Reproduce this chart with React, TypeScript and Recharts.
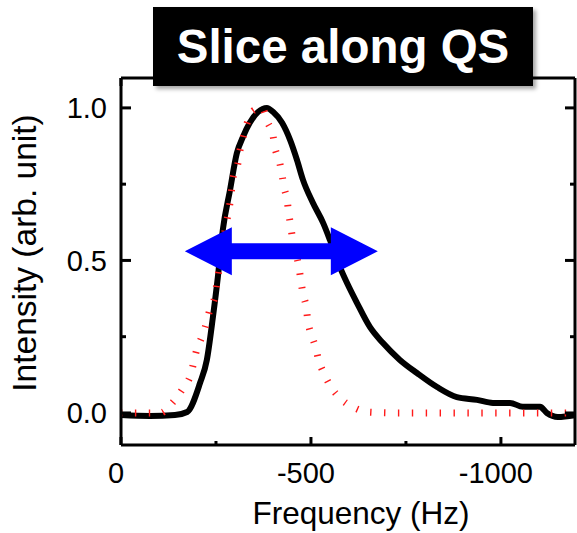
import React from 'react';
import { LineChart, Line, XAxis, YAxis, ReferenceLine } from 'recharts';

// Measured slice (black), frequency in Hz and normalised intensity
const measuredFreq = [0, -76, -142, -174, -208, -226, -242, -255, -268, -287, -305, -321, -339, -361, -384, -400, -424, -445, -463, -479, -505, -532, -550, -576, -595, -621, -655, -689, -734, -779, -832, -884, -937, -979, -1024, -1058, -1103, -1121, -1150, -1195];
const measuredInt = [-0.007, -0.01, -0.007, 0.003, 0.098, 0.174, 0.315, 0.446, 0.6, 0.731, 0.852, 0.905, 0.951, 0.987, 1.0, 0.987, 0.951, 0.895, 0.83, 0.764, 0.689, 0.623, 0.567, 0.479, 0.426, 0.361, 0.282, 0.23, 0.174, 0.131, 0.085, 0.052, 0.043, 0.033, 0.033, 0.02, 0.02, 0.0, -0.013, -0.007];

// Simulated slice (red dotted)
const simFreq = [0, -103, -137, -163, -182, -200, -213, -226, -234, -247, -253, -274, -287, -295, -308, -313, -321, -332, -347, -371, -387, -400, -405, -416, -424, -429, -437, -442, -447, -453, -468, -474, -479, -487, -492, -500, -511, -521, -534, -553, -579, -616, -650, -734, -1195];
const simInt = [0, 0, 0.036, 0.08, 0.12, 0.21, 0.25, 0.3, 0.34, 0.38, 0.43, 0.6, 0.69, 0.77, 0.82, 0.86, 0.9, 0.95, 0.99, 1.0, 0.95, 0.91, 0.87, 0.83, 0.78, 0.74, 0.7, 0.65, 0.61, 0.56, 0.48, 0.43, 0.39, 0.35, 0.3, 0.26, 0.22, 0.17, 0.13, 0.085, 0.046, 0.016, 0.003, 0, 0];

// FWHM arrow endpoints
const arrowFreq = [-168, -676];
const arrowLevel = 0.53;

const xTicks = [0, -250, -500, -750, -1000];
const xMajor = [0, -500, -1000];
const yTicks = [0, 0.25, 0.5, 0.75, 1.0];
const yMajor = [0, 0.5, 1.0];

const title = 'Slice along QS';
const xTitle = 'Frequency (Hz)';
const yTitle = 'Intensity (arb. unit)';

const measured = measuredFreq.map((f, i) => ({ f, v: measuredInt[i] }));
const simulated = simFreq.map((f, i) => ({ f, v: simInt[i] }));

const FONT = '"Liberation Sans", Arial, Helvetica, sans-serif';
const W = 577;
const H = 533;
const M = { top: 77, right: 1, bottom: 87, left: 120 };
const X_DOMAIN: [number, number] = [-1195, 0];
const Y_DOMAIN: [number, number] = [-0.105, 1.098];

const isMajor = (arr: number[], v: number) => arr.some((a) => Math.abs(a - v) < 1e-6);

const LeftTick = (p: any) => {
  const major = isMajor(yMajor, p.payload.value);
  return (
    <g>
      <line x1={p.x} y1={p.y} x2={p.x + (major ? 10 : 5)} y2={p.y} stroke="#000" strokeWidth={3} />
      {major && (
        <text x={p.x - 14} y={p.y} dy="0.36em" textAnchor="end" fontSize={29} fontFamily={FONT} fill="#000">
          {p.payload.value.toFixed(1)}
        </text>
      )}
    </g>
  );
};

const RightTick = (p: any) => {
  const major = isMajor(yMajor, p.payload.value);
  return <line x1={p.x} y1={p.y} x2={p.x - (major ? 10 : 5)} y2={p.y} stroke="#000" strokeWidth={3} />;
};

const BottomTick = (p: any) => {
  const major = isMajor(xMajor, p.payload.value);
  return (
    <g>
      <line x1={p.x} y1={p.y} x2={p.x} y2={p.y - (major ? 8 : 4)} stroke="#000" strokeWidth={3} />
      {major && (
        <text x={p.x - 5} y={p.y + 38} textAnchor="middle" fontSize={29} fontFamily={FONT} fill="#000">
          {String(p.payload.value)}
        </text>
      )}
    </g>
  );
};

const TopTick = (p: any) => {
  const major = isMajor(xMajor, p.payload.value);
  return <line x1={p.x} y1={p.y} x2={p.x} y2={p.y + (major ? 8 : 4)} stroke="#000" strokeWidth={3} />;
};

const DoubleArrow = (p: any) => {
  const xa = Math.min(p.x1, p.x2);
  const xb = Math.max(p.x1, p.x2);
  const y = p.y1;
  const hl = 47;
  const hh = 24;
  const sh = 8;
  const pts = [
    [xa, y], [xa + hl, y - hh], [xa + hl, y - sh], [xb - hl, y - sh], [xb - hl, y - hh],
    [xb, y], [xb - hl, y + hh], [xb - hl, y + sh], [xa + hl, y + sh], [xa + hl, y + hh],
  ].map((q) => q.join(',')).join(' ');
  return <polygon points={pts} fill="#0000ff" stroke="none" />;
};

const axisLine = { stroke: '#000', strokeWidth: 3 };

export default function App() {
  return (
    <div style={{ position: 'absolute', left: 0, top: 0, width: W, height: H, background: '#fff' }}>
      <LineChart width={W} height={H} margin={M}>
        <XAxis
          xAxisId="b"
          type="number"
          dataKey="f"
          domain={X_DOMAIN}
          reversed
          allowDataOverflow
          ticks={xTicks}
          interval={0}
          height={1}
          tickSize={0}
          tickMargin={0}
          tickLine={false}
          axisLine={axisLine}
          tick={<BottomTick />}
        />
        <XAxis
          xAxisId="t"
          orientation="top"
          type="number"
          dataKey="f"
          domain={X_DOMAIN}
          reversed
          allowDataOverflow
          ticks={xTicks}
          interval={0}
          height={1}
          tickSize={0}
          tickMargin={0}
          tickLine={false}
          axisLine={axisLine}
          tick={<TopTick />}
        />
        <YAxis
          yAxisId="l"
          type="number"
          domain={Y_DOMAIN}
          allowDataOverflow
          ticks={yTicks}
          interval={0}
          width={1}
          tickSize={0}
          tickMargin={0}
          tickLine={false}
          axisLine={axisLine}
          tick={<LeftTick />}
        />
        <YAxis
          yAxisId="r"
          orientation="right"
          type="number"
          domain={Y_DOMAIN}
          allowDataOverflow
          ticks={yTicks}
          interval={0}
          width={1}
          tickSize={0}
          tickMargin={0}
          tickLine={false}
          axisLine={axisLine}
          tick={<RightTick />}
        />
        <Line
          xAxisId="b"
          yAxisId="l"
          data={measured}
          dataKey="v"
          type="monotone"
          stroke="#000"
          strokeWidth={6}
          dot={false}
          activeDot={false}
          isAnimationActive={false}
        />
        <Line
          xAxisId="b"
          yAxisId="l"
          data={simulated}
          dataKey="v"
          type="monotone"
          stroke="#ff1a1a"
          strokeWidth={7}
          strokeDasharray="1.4 12.5"
          strokeLinecap="butt"
          dot={false}
          activeDot={false}
          isAnimationActive={false}
        />
        <ReferenceLine
          xAxisId="b"
          yAxisId="l"
          segment={[{ x: arrowFreq[0], y: arrowLevel }, { x: arrowFreq[1], y: arrowLevel }]}
          shape={<DoubleArrow />}
          ifOverflow="visible"
        />
      </LineChart>
      <div
        style={{
          position: 'absolute',
          left: 361,
          top: 497,
          transform: 'translateX(-50%)',
          fontFamily: FONT,
          fontSize: 31.5,
          lineHeight: '32px',
          whiteSpace: 'nowrap',
          color: '#000',
        }}
      >
        {xTitle}
      </div>
      <div
        style={{
          position: 'absolute',
          left: 25,
          top: 253,
          transform: 'translate(-50%, -50%) rotate(-90deg)',
          fontFamily: FONT,
          fontSize: 33.5,
          lineHeight: '34px',
          whiteSpace: 'nowrap',
          color: '#000',
        }}
      >
        {yTitle}
      </div>
      <div
        style={{
          position: 'absolute',
          left: 153,
          top: 7,
          width: 380,
          height: 79,
          background: '#000',
          color: '#fff',
          fontFamily: FONT,
          fontWeight: 'bold',
          fontSize: 47.5,
          lineHeight: '79px',
          textAlign: 'center',
          whiteSpace: 'nowrap',
          boxShadow: '3px 3px 4px rgba(0,0,0,0.35)',
        }}
      >
        {title}
      </div>
    </div>
  );
}
